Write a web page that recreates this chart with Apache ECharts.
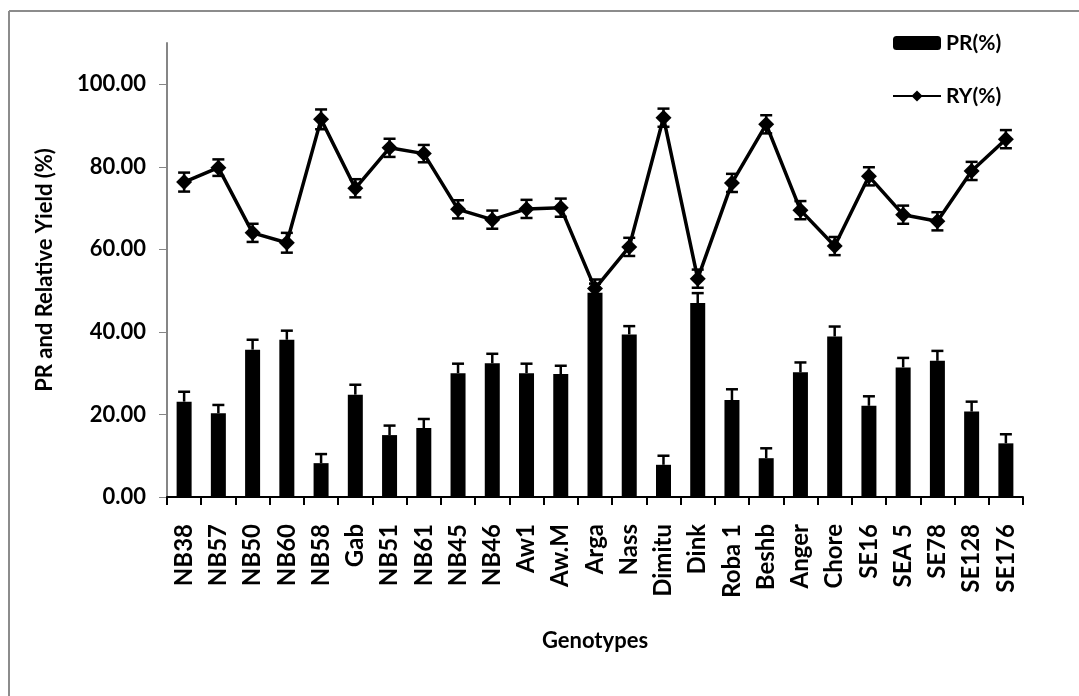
<!DOCTYPE html>
<html>
<head>
<meta charset="utf-8">
<script src="https://cdn.jsdelivr.net/npm/echarts@6/dist/echarts.min.js"></script>
<style>
html,body{margin:0;padding:0;background:#fff;}
#chart{width:1079px;height:696px;}
</style>
</head>
<body>
<div id="chart"></div>
<script>
var categories = ['NB38','NB57','NB50','NB60','NB58','Gab','NB51','NB61','NB45','NB46','Aw1','Aw.M','Arga','Nass','Dimitu','Dink','Roba 1','Beshb','Anger','Chore','SE16','SEA 5','SE78','SE128','SE176'];
var prValues = [23.1,20.3,35.7,38.1,8.2,24.8,15.0,16.7,30.0,32.4,30.0,29.8,49.5,39.4,7.8,47.0,23.5,9.4,30.2,38.9,22.1,31.4,33.0,20.7,13.0];
var prErrors = [2.4,2.0,2.4,2.2,2.2,2.4,2.3,2.2,2.3,2.3,2.3,2.0,2.2,2.0,2.2,2.4,2.6,2.4,2.4,2.4,2.3,2.3,2.4,2.4,2.2];
var ryValues = [76.3,79.8,64.0,61.6,91.5,74.8,84.6,83.2,69.7,67.2,69.8,70.1,50.5,60.6,91.9,52.9,76.1,90.3,69.5,60.8,77.7,68.4,66.8,79.0,86.7];
var ryErrors = [2.3,2.0,2.2,2.4,2.4,2.2,2.2,2.1,2.2,2.2,2.2,2.2,2.2,2.2,2.2,2.2,2.2,2.2,2.2,2.2,2.2,2.2,2.2,2.2,2.2];
var yTicks = [0,20,40,60,80,100];

var FONT = 'Lato';

function errData(vals, errs) {
  return vals.map(function (v, i) { return [i, v, errs[i]]; });
}
function errRender(both) {
  return function (params, api) {
    var x = api.value(0), v = api.value(1), e = api.value(2);
    var pTop = api.coord([x, v + e]);
    var pBot = api.coord([x, both ? v - e : v]);
    var hw = 6;
    var style = { stroke: '#000', lineWidth: 2.5 };
    return {
      type: 'group',
      children: [
        { type: 'line', shape: { x1: pTop[0], y1: pTop[1], x2: pBot[0], y2: pBot[1] }, style: style },
        { type: 'line', shape: { x1: pTop[0] - hw, y1: pTop[1], x2: pTop[0] + hw, y2: pTop[1] }, style: style },
        both ? { type: 'line', shape: { x1: pBot[0] - hw, y1: pBot[1], x2: pBot[0] + hw, y2: pBot[1] }, style: style } : { type: 'group' }
      ]
    };
  };
}

var chart = echarts.init(document.getElementById('chart'), null, { renderer: 'canvas' });
chart.setOption({
  backgroundColor: '#fff',
  animation: false,
  textStyle: { fontFamily: FONT },
  graphic: [
    { type: 'line', shape: { x1: 9, y1: 11, x2: 1079, y2: 11 }, style: { stroke: '#8c8c8c', lineWidth: 2 } },
    { type: 'line', shape: { x1: 9, y1: 11, x2: 9, y2: 696 }, style: { stroke: '#8c8c8c', lineWidth: 2 } }
  ],
  legend: {
    data: ['PR(%)', 'RY(%)'],
    orient: 'vertical',
    left: 887,
    top: 27,
    itemWidth: 48,
    itemHeight: 14,
    itemGap: 31,
    textStyle: { fontFamily: FONT, fontWeight: 'bold', fontSize: 21, color: '#000', lineHeight: 22 }
  },
  grid: { left: 167, right: 56, top: 43, bottom: 199, containLabel: false },
  xAxis: {
    type: 'category',
    data: categories,
    boundaryGap: true,
    name: 'Genotypes',
    nameLocation: 'middle',
    nameGap: 133,
    nameTextStyle: { fontFamily: FONT, fontWeight: 'bold', fontSize: 22, color: '#000' },
    axisLine: { lineStyle: { color: '#000', width: 2 } },
    axisTick: { show: true, length: 8, lineStyle: { color: '#000', width: 2 } },
    axisLabel: { rotate: 90, interval: 0, margin: 27, fontFamily: FONT, fontWeight: 'bold', fontSize: 24, color: '#000' }
  },
  yAxis: {
    type: 'value',
    min: 0,
    max: 110,
    interval: 20,
    name: 'PR and Relative Yield (%)',
    nameLocation: 'middle',
    nameGap: 111,
    nameTextStyle: { fontFamily: FONT, fontWeight: 'bold', fontSize: 22, color: '#000' },
    axisLine: { show: true, lineStyle: { color: '#868686', width: 2 } },
    axisTick: { show: true, length: 8, customValues: yTicks, lineStyle: { color: '#868686', width: 1 } },
    axisLabel: { customValues: yTicks, margin: 21, fontFamily: FONT, fontWeight: 'bold', fontSize: 22, color: '#000',
      formatter: function (v) { return v.toFixed(2); } },
    splitLine: { show: false }
  },
  series: [
    {
      name: 'PR(%)', type: 'bar', data: prValues, barWidth: 15,
      itemStyle: { color: '#000' }, z: 2
    },
    {
      name: 'PR err', type: 'custom', data: errData(prValues, prErrors),
      renderItem: errRender(false), z: 3, silent: true
    },
    {
      name: 'RY(%)', type: 'line', data: ryValues,
      symbol: 'diamond', symbolSize: 16,
      lineStyle: { color: '#000', width: 3.5 },
      itemStyle: { color: '#000' }, z: 5
    },
    {
      name: 'RY err', type: 'custom', data: errData(ryValues, ryErrors),
      renderItem: errRender(true), z: 4, silent: true
    }
  ]
});
</script>
</body>
</html>
